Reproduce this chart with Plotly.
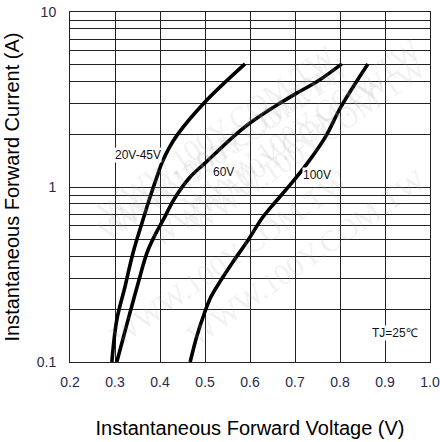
import math
import plotly.graph_objects as go

# 20V-45V
v_20_45 = [0.293, 0.304, 0.322, 0.340, 0.362, 0.378, 0.391, 0.404, 0.420, 0.438, 0.500, 0.589]
i_20_45 = [0.100, 0.174, 0.268, 0.420, 0.648, 0.877, 1.10, 1.37, 1.67, 1.98, 3.06, 5.05]
# 60V
v_60 = [0.304, 0.329, 0.349, 0.371, 0.387, 0.407, 0.433, 0.467, 0.500, 0.562, 0.600, 0.660, 0.704, 0.751, 0.804]
i_60 = [0.100, 0.174, 0.268, 0.420, 0.520, 0.648, 0.865, 1.14, 1.37, 1.93, 2.32, 2.94, 3.44, 4.03, 5.05]
# 100V
v_100 = [0.467, 0.482, 0.498, 0.513, 0.533, 0.562, 0.596, 0.627, 0.647, 0.696, 0.733, 0.769, 0.802, 0.862]
i_100 = [0.100, 0.141, 0.188, 0.235, 0.287, 0.373, 0.498, 0.665, 0.769, 1.08, 1.43, 1.96, 2.87, 5.05]

x_ticks = [0.2, 0.3, 0.4, 0.5, 0.6, 0.7, 0.8, 0.9, 1.0]
y_grid = [0.1, 0.2, 0.3, 0.4, 0.5, 0.6, 0.7, 0.8, 0.9,
          1, 2, 3, 4, 5, 6, 7, 8, 9, 10]
y_labels = {0.1: "0.1", 1: "1", 10: "10"}

fig = go.Figure()

# faint watermark
wm_pos = [(0.05, 0.93), (0.30, 0.62), (0.05, 0.32), (0.55, 0.30), (0.80, 0.62),
          (0.30, 0.02), (0.80, 0.02), (1.0, 0.95)]
for px, py in wm_pos:
    fig.add_annotation(x=px, y=py, xref="paper", yref="paper", text="WWW.100Y.COM.TW",
                       showarrow=False, textangle=-35,
                       font=dict(family="Liberation Serif", size=30, color="rgba(170,170,170,0.18)"))

for v, i in [(v_20_45, i_20_45), (v_60, i_60), (v_100, i_100)]:
    fig.add_trace(go.Scatter(x=v, y=i, mode="lines",
                             line=dict(color="black", width=3.6, shape="spline", smoothing=1.0),
                             showlegend=False, hoverinfo="skip"))

labels = [("20V-45V", 0.352, 1.52), ("60V", 0.540, 1.22), ("100V", 0.749, 1.17),
          ("TJ=25℃", 0.922, 0.147)]
for t, x, y in labels:
    fig.add_annotation(x=x, y=math.log10(y), text=t, showarrow=False,
                       font=dict(family="Liberation Sans, Arial", size=12, color="#111111"),
                       bgcolor="white", borderpad=0)

tick_font = dict(family="Liberation Sans, Arial", size=14, color="#2a2a4a")
fig.update_xaxes(range=[0.2, 1.0], tickvals=x_ticks,
                 ticktext=[f"{t:.1f}" for t in x_ticks],
                 showgrid=True, gridcolor="#222222", gridwidth=1,
                 showline=True, linecolor="#222222", linewidth=1, mirror=True,
                 zeroline=False, ticks="", tickfont=tick_font, automargin=False,
                 ticklabelstandoff=7,
                 title=dict(text="Instantaneous Forward Voltage (V)",
                            font=dict(family="Liberation Sans, Arial", size=20, color="black"),
                            standoff=32))
fig.update_yaxes(type="log", range=[-1, 1], tickvals=y_grid,
                 ticktext=[y_labels.get(v, "") for v in y_grid],
                 showgrid=True, gridcolor="#222222", gridwidth=1,
                 showline=True, linecolor="#222222", linewidth=1, mirror=True,
                 zeroline=False, ticks="", tickfont=tick_font, automargin=False,
                 ticklabelstandoff=10,
                 title=dict(text="Instantaneous Forward Current (A)",
                            font=dict(family="Liberation Sans, Arial", size=20, color="black"),
                            standoff=11))
fig.update_layout(width=440, height=442, margin=dict(l=70, r=10, t=12, b=80),
                  plot_bgcolor="white", paper_bgcolor="white")
fig.write_html("out.html", config={"displayModeBar": False},
               post_script="document.body.style.margin='0px';document.body.style.overflow='hidden';")
